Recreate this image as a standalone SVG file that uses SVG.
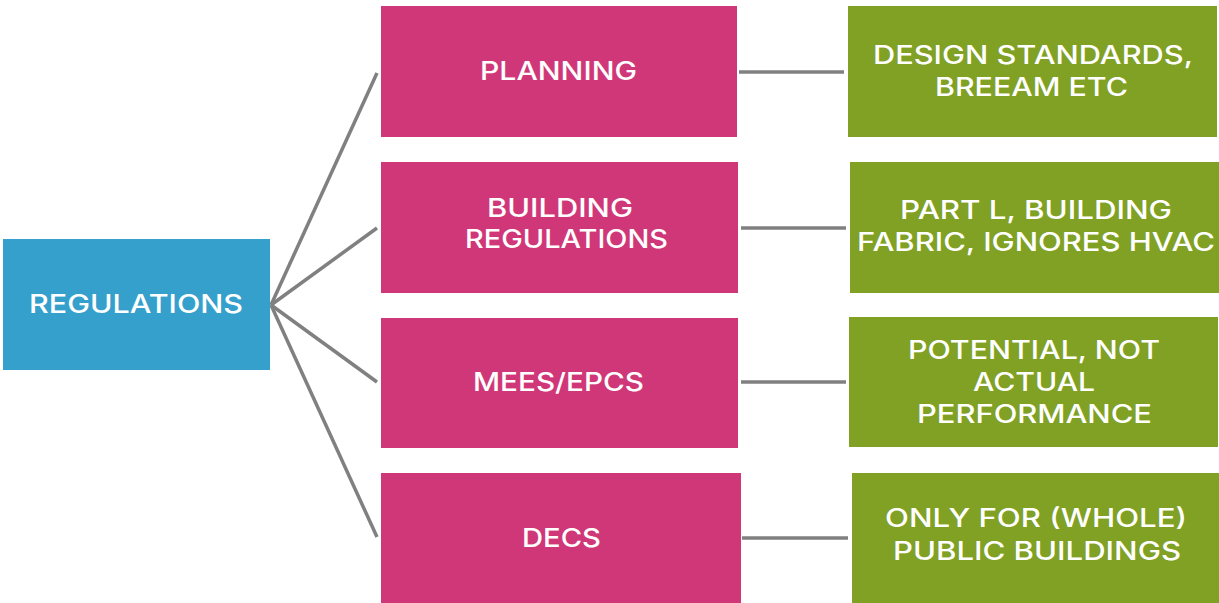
<svg xmlns="http://www.w3.org/2000/svg" width="1219" height="603" viewBox="0 0 1219 603">
<style>
.blue{fill:#35A0CC}
.pink{fill:#D03778}
.green{fill:#80A124}
.t{fill:#fff;font-family:Inter,"Open Sans","Liberation Sans",sans-serif;font-weight:500;font-size:25px}
.c{stroke:#808080;stroke-width:3.5;fill:none}
</style>
<rect width="1219" height="603" fill="#fff"/>
<g id="connectors">
<line class="c" x1="271" y1="305" x2="377" y2="73"/>
<line class="c" x1="271" y1="305" x2="377" y2="228"/>
<line class="c" x1="271" y1="305" x2="377" y2="382"/>
<line class="c" x1="271" y1="305" x2="377" y2="537"/>
<line class="c" x1="739" y1="72" x2="844" y2="72"/>
<line class="c" x1="741" y1="228" x2="846" y2="228"/>
<line class="c" x1="741" y1="382" x2="846" y2="382"/>
<line class="c" x1="742" y1="538" x2="848" y2="538"/>
</g>
<g id="regulations">
<rect class="blue" x="3" y="239" width="267" height="131"/>
<text class="t" x="29" y="313" textLength="214" lengthAdjust="spacingAndGlyphs">REGULATIONS</text>
</g>
<g id="planning">
<rect class="pink" x="381" y="6" width="356" height="131"/>
<text class="t" x="480" y="80" textLength="157" lengthAdjust="spacingAndGlyphs">PLANNING</text>
</g>
<g id="building-regulations">
<rect class="pink" x="381" y="162" width="357" height="131"/>
<text class="t" x="487" y="217" textLength="146" lengthAdjust="spacingAndGlyphs">BUILDING</text>
<text class="t" x="465" y="248" textLength="203" lengthAdjust="spacingAndGlyphs">REGULATIONS</text>
</g>
<g id="mees-epcs">
<rect class="pink" x="381" y="318" width="357" height="130"/>
<text class="t" x="473" y="391" textLength="171" lengthAdjust="spacingAndGlyphs">MEES/EPCS</text>
</g>
<g id="decs">
<rect class="pink" x="381" y="473" width="360" height="130"/>
<text class="t" x="522" y="547" textLength="79" lengthAdjust="spacingAndGlyphs">DECS</text>
</g>
<g id="design-standards">
<rect class="green" x="848" y="6" width="369" height="131"/>
<text class="t" x="873" y="64" textLength="320" lengthAdjust="spacingAndGlyphs">DESIGN STANDARDS,</text>
<text class="t" x="935" y="96" textLength="193" lengthAdjust="spacingAndGlyphs">BREEAM ETC</text>
</g>
<g id="part-l">
<rect class="green" x="850" y="162" width="369" height="131"/>
<text class="t" x="900" y="219" textLength="272" lengthAdjust="spacingAndGlyphs">PART L, BUILDING</text>
<text class="t" x="857" y="251" textLength="358" lengthAdjust="spacingAndGlyphs">FABRIC, IGNORES HVAC</text>
</g>
<g id="potential">
<rect class="green" x="849" y="317" width="369" height="130"/>
<text class="t" x="908" y="359" textLength="252" lengthAdjust="spacingAndGlyphs">POTENTIAL, NOT</text>
<text class="t" x="973" y="391" textLength="122" lengthAdjust="spacingAndGlyphs">ACTUAL</text>
<text class="t" x="917" y="423" textLength="235" lengthAdjust="spacingAndGlyphs">PERFORMANCE</text>
</g>
<g id="only-for">
<rect class="green" x="852" y="473" width="367" height="130"/>
<text class="t" x="885" y="527" textLength="302" lengthAdjust="spacingAndGlyphs">ONLY FOR (WHOLE)</text>
<text class="t" x="893" y="560" textLength="288" lengthAdjust="spacingAndGlyphs">PUBLIC BUILDINGS</text>
</g>
</svg>
